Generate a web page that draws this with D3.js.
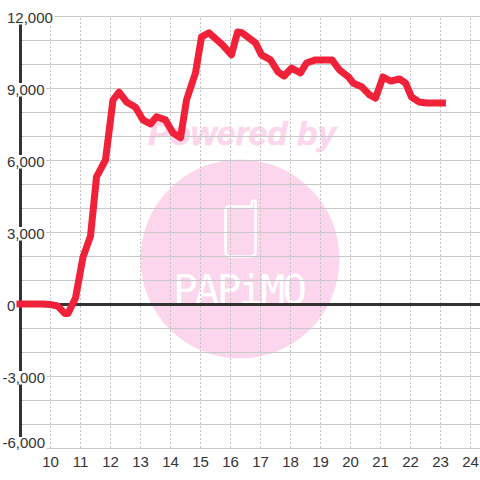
<!DOCTYPE html>
<html><head><meta charset="utf-8">
<script src="https://cdn.jsdelivr.net/npm/d3@7"></script>
<style>html,body{margin:0;padding:0;background:#fff}svg{display:block}</style>
</head><body><svg id="c" width="480" height="480"></svg>
<script>
const times=[9,9.75,10,10.25,10.5,10.6,10.85,11.1,11.35,11.55,11.85,12.1,12.3,12.55,12.85,13.1,13.35,13.55,13.85,14.1,14.35,14.55,14.85,15.05,15.3,15.75,16.05,16.25,16.4,16.85,17.05,17.35,17.6,17.8,18.05,18.35,18.55,18.85,19.4,19.65,19.95,20.1,20.4,20.65,20.85,21.1,21.35,21.65,21.85,22.05,22.3,22.55,23.08];
const values=[0,0,-20,-80,-400,-400,250,1950,2830,5300,6000,8500,8830,8420,8200,7670,7500,7800,7670,7130,6920,8500,9630,11130,11300,10800,10380,11330,11300,10880,10380,10170,9670,9500,9830,9630,10040,10170,10170,9750,9460,9210,9040,8710,8580,9460,9290,9375,9210,8625,8420,8375,8375];
const xTicks=[10,11,12,13,14,15,16,17,18,19,20,21,22,23,24];
const yGrid=[12000,11000,10000,9000,8000,7000,6000,5000,4000,3000,2000,1000,-1000,-2000,-3000,-4000,-5000,-6000];
const yTicks=[12000,9000,6000,3000,0,-3000,-6000];
const yTickLabels=["12,000","9,000","6,000","3,000","0","-3,000","-6,000"];
const watermarkTop="Powered by";
const watermarkBottom="PAPiMO";

const svg=d3.select("#c");
const font="'Liberation Sans',Arial,sans-serif";
const x=d3.scaleLinear().domain([9,25]).range([20,500]);
const y=d3.scaleLinear().domain([12000,-6000]).range([16,448]);

// watermark
const pink="#fbd6ed";
svg.append("text").text(watermarkTop).attr("x",242).attr("y",145)
  .attr("text-anchor","middle").attr("font-family",font).attr("font-weight","bold").attr("font-style","italic")
  .attr("font-size",33.5).attr("fill",pink).attr("stroke",pink).attr("stroke-width",0.6);
svg.append("circle").attr("cx",240).attr("cy",259).attr("r",99.5).attr("fill",pink);
svg.append("path").attr("d","M229,206.5H252V202.5Q252,200.5 253.8,200.5Q255.5,200.5 255.5,202.5V251.5Q255.5,256.5 250.5,256.5H230.5Q225.5,256.5 225.5,251.5V210.5Q225.5,206.5 229,206.5Z")
  .attr("fill","none").attr("stroke","#fff").attr("stroke-width",2.5);
svg.append("text").text(watermarkBottom).attr("x",173).attr("y",304)
  .attr("textLength",134).attr("lengthAdjust","spacing")
  .attr("font-family","'DejaVu Sans Mono',monospace").attr("font-size",41).attr("fill","#fff");

// grid
const gh=svg.append("g").attr("transform","translate(20,0)")
  .call(d3.axisRight(y).tickValues(yGrid).tickSize(460).tickFormat(""));
gh.select(".domain").remove();
gh.selectAll("line").attr("stroke","#c8c8c8").attr("stroke-width",1);
const gv=svg.append("g").attr("transform","translate(0,448)")
  .call(d3.axisTop(x).tickValues(xTicks).tickSize(432).tickFormat(""));
gv.select(".domain").remove();
gv.selectAll("line").attr("stroke","#c4c4c4").attr("stroke-width",1).attr("stroke-dasharray","2 2");

// axis lines
svg.append("line").attr("x1",x(9)+0.5).attr("x2",x(9)+0.5).attr("y1",y(12000)).attr("y2",y(-6000)).attr("stroke","#333").attr("stroke-width",3);
svg.append("line").attr("x1",x(9)).attr("x2",480).attr("y1",y(0)+0.5).attr("y2",y(0)+0.5).attr("stroke","#333").attr("stroke-width",3);

// y labels
const ya=svg.append("g").call(d3.axisRight(y).tickValues(yTicks).tickSize(0).tickPadding(0).tickFormat((d,i)=>yTickLabels[i]));
ya.select(".domain").remove();
ya.selectAll(".tick").each(function(d){
  const g=d3.select(this), t=g.select("text"), last=d===-6000;
  t.attr("x",d<0?2.5:7).attr("y",last?-1:6).attr("dy",null)
   .attr("font-family",font).attr("font-size",15).attr("fill","#333");
  const b=t.node().getBBox();
  g.insert("rect","text").attr("x",b.x-1).attr("width",b.width+2.5)
   .attr("y",last?-11.5:-5.5).attr("height",13.5).attr("fill","#fff");
});

// x labels
const xa=svg.append("g").attr("transform","translate(0,467)")
  .call(d3.axisBottom(x).tickValues(xTicks).tickSize(0).tickPadding(0).tickFormat(d=>d));
xa.select(".domain").remove();
xa.selectAll("text").attr("font-family",font).attr("font-size",15).attr("fill","#333").attr("y",0).attr("dy",null);

// series
svg.append("path").datum(times.map((t,i)=>[t,values[i]]))
  .attr("d",d3.line().x(d=>x(d[0])).y(d=>y(d[1])))
  .attr("fill","none").attr("stroke","#f12139").attr("stroke-width",7).attr("stroke-linecap","square").attr("stroke-linejoin","round");
</script></body></html>
